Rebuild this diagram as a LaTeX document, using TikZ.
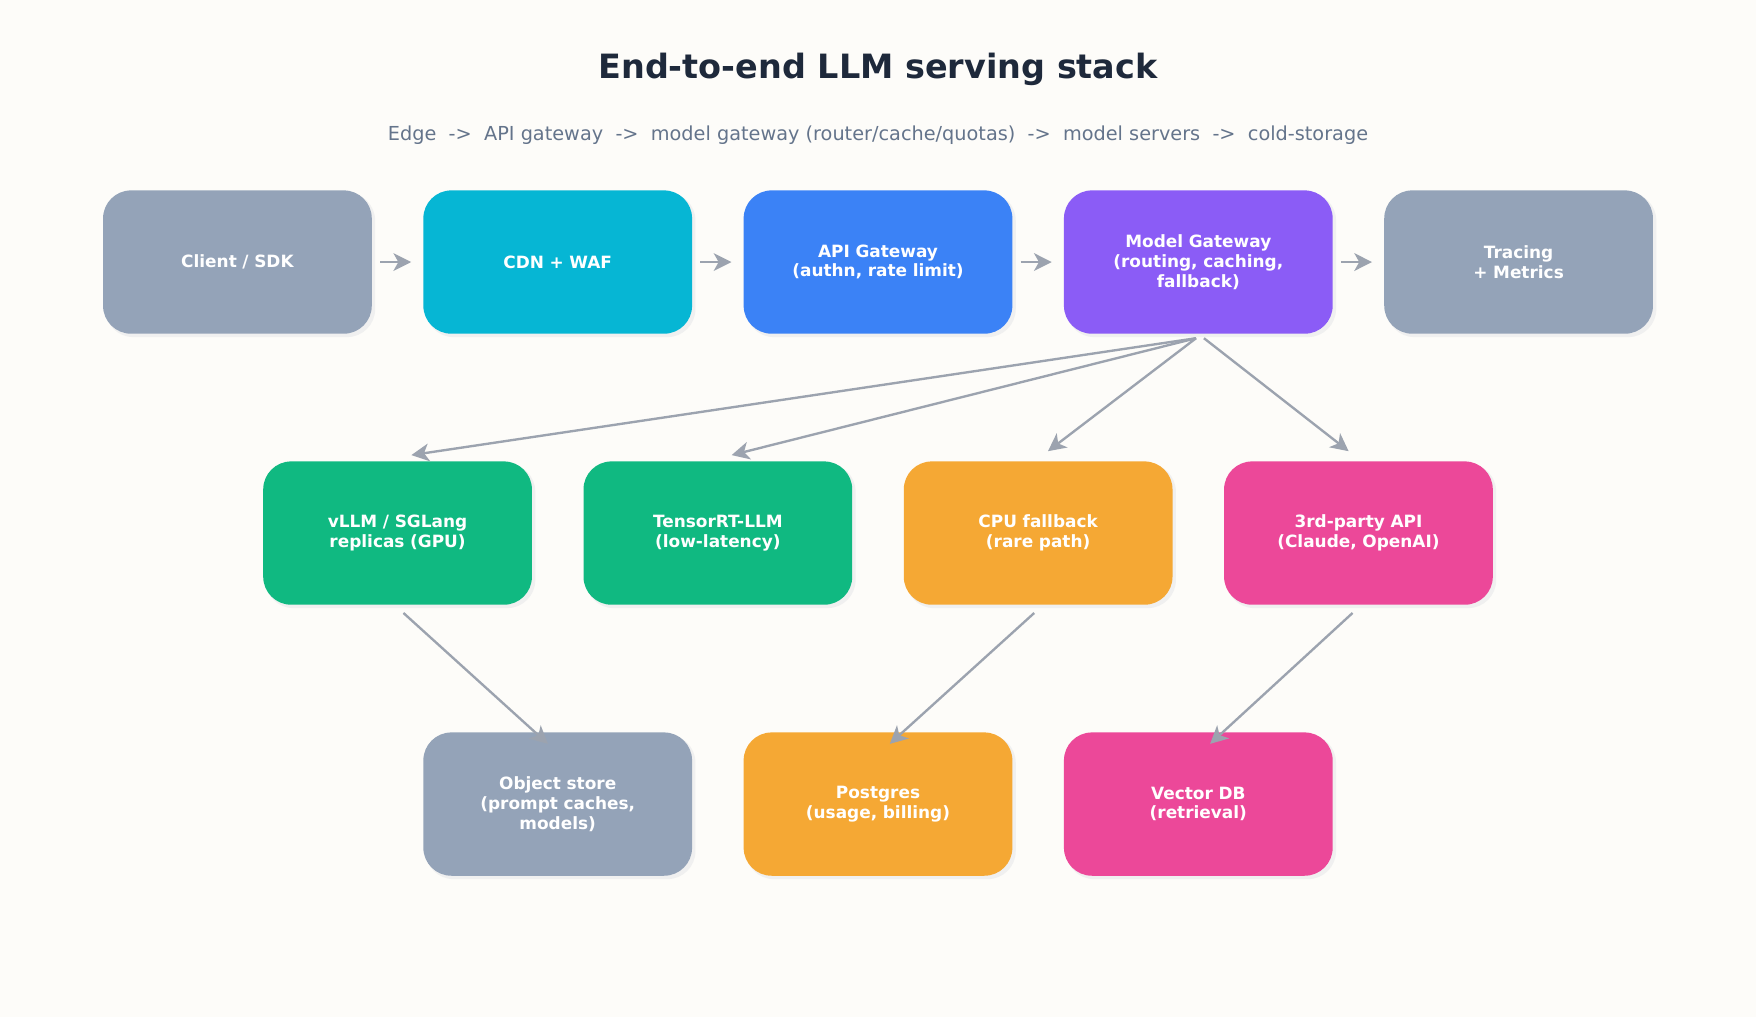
\documentclass[tikz,border=0pt]{standalone}
\usepackage{fontspec}
\setmainfont{DejaVu Sans}
\usetikzlibrary{arrows.meta}
\definecolor{bgc}{HTML}{FDFCF9}
\definecolor{titlec}{HTML}{1E293B}
\definecolor{subc}{HTML}{64748B}
\definecolor{arrc}{HTML}{9CA3AF}
\definecolor{slate}{HTML}{94A3B8}
\definecolor{cyanc}{HTML}{06B6D4}
\definecolor{bluec}{HTML}{3B82F6}
\definecolor{purplec}{HTML}{8B5CF6}
\definecolor{greenc}{HTML}{10B981}
\definecolor{orangec}{HTML}{F5A834}
\definecolor{pinkc}{HTML}{EC4899}

\begin{document}
\begin{tikzpicture}[x=0.02cm,y=-0.02cm,
  box/.style={rounded corners=0.5cm, minimum width=4.8cm, minimum height=2.56cm,
    text width=4.4cm, align=center, text=white, font=\fontsize{8.6}{10}\selectfont\bfseries,
    inner sep=0pt, draw=none},
  shade/.style={fill=black!6, rounded corners=0.5cm},
  link/.style={draw=arrc, line width=1.2pt, -{Stealth[length=9pt,width=9pt,inset=2.5pt]}}]
\fill[bgc] (0,0) rectangle (1568,908);
\useasboundingbox (0,0) rectangle (1568,908);
\node[font=\fontsize{17}{20}\selectfont\bfseries, text=titlec] (title) at (784,62) {End-to-end LLM serving stack};
\node[font=\fontsize{9.8}{12}\selectfont, text=subc] (sub) at (784,121)
  {Edge\ \ ->\ \ API gateway\ \ ->\ \ model gateway (router/cache/quotas)\ \ ->\ \ model servers\ \ ->\ \ cold-storage};

% shadows
\foreach \x/\y in {212/234,498/234,784/234,1070/234,1356/234,355/476,641/476,927/476,1213/476,498/718,784/718,1070/718}
  \fill[shade] (\x-118,\y-62) rectangle (\x+123,\y+67);

% row 1
\node[box, fill=slate] (client) at (212,234) {Client / SDK};
\node[box, fill=cyanc] (cdn) at (498,234) {CDN + WAF};
\node[box, fill=bluec] (api) at (784,234) {API Gateway\\(authn, rate limit)};
\node[box, fill=purplec] (mgw) at (1070,234) {Model Gateway\\(routing, caching,\\fallback)};
\node[box, fill=slate] (trace) at (1356,234) {Tracing\\+ Metrics};
% row 2
\node[box, fill=greenc] (vllm) at (355,476) {vLLM / SGLang\\replicas (GPU)};
\node[box, fill=greenc] (trt) at (641,476) {TensorRT-LLM\\(low-latency)};
\node[box, fill=orangec] (cpu) at (927,476) {CPU fallback\\(rare path)};
\node[box, fill=pinkc] (third) at (1213,476) {3rd-party API\\(Claude, OpenAI)};
% row 3
\node[box, fill=slate] (obj) at (498,718) {Object store\\(prompt caches,\\models)};
\node[box, fill=orangec] (pg) at (784,718) {Postgres\\(usage, billing)};
\node[box, fill=pinkc] (vdb) at (1070,718) {Vector DB\\(retrieval)};

\draw[link] ([xshift=4]client.east) -- ([xshift=-6]cdn.west);
\draw[link] ([xshift=4]cdn.east) -- ([xshift=-6]api.west);
\draw[link] ([xshift=4]api.east) -- ([xshift=-6]mgw.west);
\draw[link] ([xshift=4]mgw.east) -- ([xshift=-6]trace.west);

\coordinate (mgwb) at (1068,302);
\draw[link] (mgwb) -- ([xshift=7,yshift=3]vllm.north);
\draw[link] (mgwb) -- ([xshift=7,yshift=3]trt.north);
\draw[link] (mgwb) -- ([xshift=5,yshift=5]cpu.north);
\draw[link] ([xshift=4]mgwb) -- ([xshift=-5,yshift=5]third.north);

\draw[link] ([xshift=3,yshift=-4]vllm.south) -- ([xshift=-5,yshift=-6]obj.north);
\draw[link] ([xshift=-2,yshift=-4]cpu.south) -- ([xshift=6,yshift=-6]pg.north);
\draw[link] ([xshift=-3,yshift=-4]third.south) -- ([xshift=6,yshift=-6]vdb.north);
\end{tikzpicture}
\end{document}
